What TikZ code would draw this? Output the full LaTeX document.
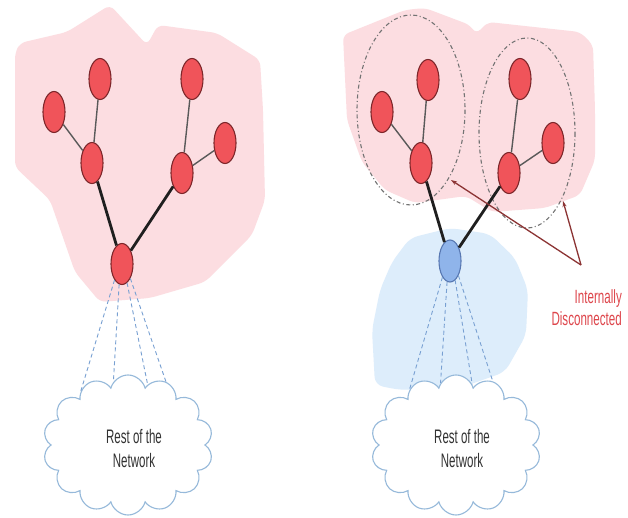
\documentclass[tikz,border=0pt]{standalone}
\usepackage{fontspec}
\setmainfont{Liberation Sans}
\usetikzlibrary{shapes.geometric,shapes.symbols,arrows.meta}
\definecolor{blobpink}{RGB}{252,221,225}
\definecolor{blobblue}{RGB}{221,237,251}
\definecolor{nodered}{RGB}{240,84,90}
\definecolor{nodeborder}{RGB}{125,38,42}
\definecolor{nodeblue}{RGB}{143,180,234}
\definecolor{blueborder}{RGB}{88,120,178}
\definecolor{cloudline}{RGB}{150,185,218}
\definecolor{dashblue}{RGB}{120,160,210}
\definecolor{arrowred}{RGB}{140,52,52}
\definecolor{labelred}{RGB}{222,70,76}
\definecolor{textgray}{RGB}{50,50,50}
\begin{document}
\begin{tikzpicture}[x=1pt,y=-1pt,
  rnode/.style={ellipse, draw=nodeborder, fill=nodered, line width=1.1pt, minimum width=22pt, minimum height=41pt, inner sep=0pt},
  bnode/.style={ellipse, draw=blueborder, fill=nodeblue, line width=1.1pt, minimum width=22pt, minimum height=42pt, inner sep=0pt},
  thinedge/.style={draw=black!65, line width=1.4pt},
  thickedge/.style={draw=black!88, line width=2.8pt},
  netcloud/.style={cloud, cloud puffs=14, cloud ignores aspect, draw=cloudline, fill=white, line width=1.1pt, minimum width=170pt, minimum height=140pt, inner sep=0pt},
  netlink/.style={draw=dashblue, line width=0.9pt, dash pattern=on 4pt off 3pt},
  groupring/.style={draw=black!55, line width=1.1pt, dash pattern=on 4pt off 2.5pt on 1pt off 2.5pt},
  pointer/.style={draw=arrowred, line width=1.3pt, -{Stealth[length=6pt,width=4pt]}},
  cloudtext/.style={text=textgray, inner sep=0pt, font=\fontsize{11.5}{14.7}\selectfont},
  redtext/.style={text=labelred, inner sep=0pt, font=\fontsize{11.6}{13}\selectfont}
]
\fill[white] (0,0) rectangle (628,518);
\useasboundingbox (0,0) rectangle (628,518);

% ---------- left panel ----------
\fill[blobpink, rounded corners=6pt] (15,53) -- (20,43) -- (67,32) -- (110,5) -- (147,45) -- (158,25) -- (217,33) -- (260,60) -- (263,110) -- (265,200) -- (252,235) -- (205,282) -- (150,298) -- (100,302) -- (75,272) -- (50,200) -- (15,167) -- cycle;

\node[rnode] (lA) at (54,112) {};
\node[rnode] (lB) at (100,79) {};
\node[rnode] (lC) at (92,163) {};
\node[rnode] (lD) at (192,79) {};
\node[rnode] (lE) at (225,143) {};
\node[rnode] (lF) at (182,173) {};

\draw[thinedge] (lA) -- (lC);
\draw[thinedge] (lB) -- (lC);
\draw[thinedge] (lD) -- (lF);
\draw[thinedge] (lE) -- (lF);

\node[rnode] (lG) at (122,264) {};
\draw[thickedge] (lC) -- (lG);
\draw[thickedge] (lF) -- (lG);

\node[netcloud] (cloudL) at (128,445) {};
\node[cloudtext] (txtL) at (134,450.5) {\scalebox{1}[1.7]{\begin{tabular}{@{}c@{}}Rest of the\\Network\end{tabular}}};

\draw[netlink] (lG.245) -- (cloudL.131);
\draw[netlink] (lG.262) -- (cloudL.103);
\draw[netlink] (lG.285) -- (cloudL.72);
\draw[netlink] (lG.300) -- (cloudL.59);

% ---------- right panel ----------
\fill[blobpink, rounded corners=6pt] (343,35) -- (405,10) -- (425,8) -- (470,25) -- (476,34) -- (488,22) -- (580,32) -- (593,45) -- (595,110) -- (595,160) -- (580,195) -- (545,208) -- (492,212) -- (466,196) -- (415,203) -- (385,190) -- (362,162) -- (347,120) -- cycle;

\fill[blobblue, rounded corners=8pt] (392,262) -- (410,238) -- (450,228) -- (490,234) -- (515,258) -- (528,290) -- (526,335) -- (505,372) -- (460,388) -- (400,390) -- (375,385) -- (372,330) -- (380,290) -- cycle;

\draw[groupring] (411,110) ellipse [x radius=54, y radius=95];
\draw[groupring] (527,133) ellipse [x radius=48, y radius=95];

\node[rnode] (rA) at (382,112) {};
\node[rnode] (rB) at (428,80) {};
\node[rnode] (rC) at (421,163) {};
\node[rnode] (rD) at (520,79) {};
\node[rnode] (rE) at (553,143) {};
\node[rnode] (rF) at (509,173) {};

\draw[thinedge] (rA) -- (rC);
\draw[thinedge] (rB) -- (rC);
\draw[thinedge] (rD) -- (rF);
\draw[thinedge] (rE) -- (rF);

\node[bnode] (rG) at (450,261) {};
\draw[thickedge] (rC) -- (rG);
\draw[thickedge] (rF) -- (rG);

\coordinate (apex) at (581,265);
\coordinate (tipL) at (451,180);
\coordinate (tipR) at (563,201);
\draw[pointer] (apex) -- (tipL);
\draw[pointer] (apex) -- (tipR);

\node[redtext, anchor=east] (lbl) at (622,310) {\scalebox{1}[1.65]{\begin{tabular}{@{}r@{}}Internally\\Disconnected\end{tabular}}};

\node[netcloud] (cloudR) at (456,445) {};
\node[cloudtext] (txtR) at (462,450.5) {\scalebox{1}[1.7]{\begin{tabular}{@{}c@{}}Rest of the\\Network\end{tabular}}};

\draw[netlink] (rG.245) -- (cloudR.130);
\draw[netlink] (rG.262) -- (cloudR.104);
\draw[netlink] (rG.285) -- (cloudR.75);
\draw[netlink] (rG.300) -- (cloudR.60);
\end{tikzpicture}
\end{document}
